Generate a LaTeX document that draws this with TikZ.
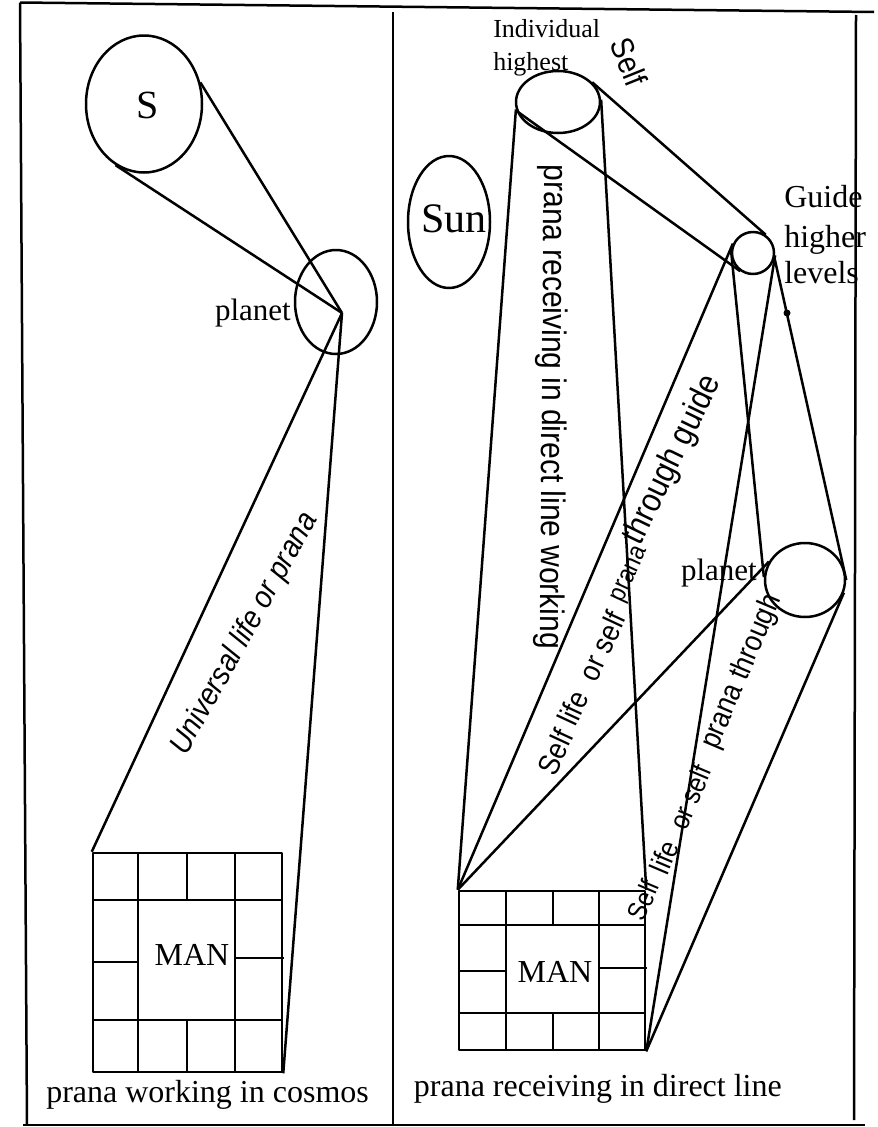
\documentclass[tikz,border=0pt]{standalone}
\usepackage{fontspec}
\usepackage{graphicx}
\setmainfont{Liberation Serif}
\newfontfamily\sfx{Liberation Sans}
\usetikzlibrary{shapes.geometric}
\newcommand\myfs[1]{\fontsize{#1}{#1}\selectfont}
\newcommand\nar[1]{\scalebox{0.88}[1]{#1}}
\begin{document}
\begin{tikzpicture}[x=1pt,y=-1pt,line width=2.5pt,line join=round,
  ell/.style={ellipse,draw,inner sep=0pt},
  gridbox/.style={draw,inner sep=0pt},
  lbl/.style={inner sep=0pt},
  rs/.style={inner sep=0pt}]
\useasboundingbox (0,0) rectangle (878,1127);
% frame
\draw (20,2.5) -- (874,12);
\draw (20,2.5) -- (27,1125);
\draw (23,1125) -- (865,1125);
\draw (393,12) -- (393,1124);
\draw (856,15) -- (854,1120);

% ---------------- left panel
\node[ell,minimum width=116pt,minimum height=137pt] (S) at (144,104) {};
\node[lbl,font=\myfs{40}] (Stext) at (148,105) {S};
\node[ell,minimum width=82pt,minimum height=104pt] (pl1) at (336,302) {};
\coordinate (pf) at (342,313);
\node[lbl,anchor=base east,font=\myfs{31}] (pl1lbl) at (292,320) {planet};
\node[gridbox,minimum width=189pt,minimum height=219pt] (g1) at (187.5,962.5) {};
\node[lbl,font=\myfs{32}] (man1) at (192,955) {MAN};
% grid 1 interior
\draw (93,900) -- (282,900);
\draw (93,1020) -- (282,1020);
\foreach \xx in {138,187,235} {
  \draw (\xx,853) -- (\xx,900);
  \draw (\xx,1020) -- (\xx,1072);
}
\draw (138,900) -- (138,1020);
\draw (235,900) -- (235,1020);
\draw (93,962) -- (138,962);
\draw (235,958) -- (284,958);
% connectors
\draw (S.21) -- (pf);
\draw (S.245) -- (pf);
\draw (pf) -- (g1.north west);
\draw (pf) -- (g1.south east);
\node[rs,rotate=61,font=\sfx\itshape\myfs{31}] (univ) at (245,634) {\scalebox{0.9}[1]{Universal life or prana}};
\node[lbl,anchor=base west,font=\myfs{32}] (cap1) at (45,1102) {prana working in cosmos};

% ---------------- right panel
\node[ell,minimum width=82pt,minimum height=132pt] (sun) at (449,222) {};
\node[lbl,font=\myfs{42}] (suntext) at (454,219) {Sun};
\node[ell,minimum width=84pt,minimum height=62pt] (ind) at (558,102) {};
\node[lbl,anchor=base west,font=\myfs{26}] (indl1) at (492,37) {Individual};
\node[lbl,anchor=base west,font=\myfs{26}] (indl2) at (492,70) {highest};
\node[rs,rotate=-68,font=\sfx\myfs{32}] (selftop) at (629,62) {\nar{Self}};
\node[circle,draw,minimum size=42pt,inner sep=0pt] (gd) at (753,253) {};
\node[lbl,anchor=base west,font=\myfs{32}] (gl1) at (783,207) {Guide};
\node[lbl,anchor=base west,font=\myfs{32}] (gl2) at (783,247) {higher};
\node[lbl,anchor=base west,font=\myfs{32}] (gl3) at (783,283) {levels};
\node[circle,fill,inner sep=0pt,minimum size=7pt] (dot) at (787,313) {};
\node[ell,minimum width=80pt,minimum height=74pt] (pl2) at (805,580) {};
\node[lbl,anchor=base east,font=\myfs{31}] (pl2lbl) at (758,580) {planet};
\node[gridbox,minimum width=186pt,minimum height=159pt] (g2) at (552,970.5) {};
\node[lbl,font=\myfs{32}] (man2) at (555,972) {MAN};
% grid 2 interior
\draw (459,925) -- (645,925);
\draw (459,1013) -- (645,1013);
\foreach \xx in {506,553,599} {
  \draw (\xx,891) -- (\xx,925);
  \draw (\xx,1013) -- (\xx,1050);
}
\draw (506,925) -- (506,1013);
\draw (599,925) -- (599,1013);
\draw (459,971) -- (506,971);
\draw (599,968) -- (647,968);
% connectors
\draw (ind.30) -- (gd.55);
\draw (ind.192) -- (gd.235);
\draw (ind.190) -- (g2.north west);
\draw (ind.3) -- (g2.north east);
\draw (gd.155) -- (g2.north west);
\draw (gd.172) -- (pl2.176);
\draw (gd.-6) -- (g2.south east);
\draw (gd.-14) -- (pl2.0);
\draw (pl2.-18) -- (g2.south east);
\draw (pl2.153) -- (g2.north west);
% rotated texts
\node[rs,rotate=-90.5,font=\sfx\myfs{34}] (t1) at (551,407) {\nar{prana receiving in direct line working}};
\node[rs,rotate=65,font=\sfx\myfs{30}] (t2a) at (555,752) {\nar{Self}};
\node[rs,rotate=65,font=\sfx\myfs{30}] (t2b) at (573,708) {\nar{life}};
\node[rs,rotate=65,font=\sfx\myfs{30}] (t2c) at (602,646) {\nar{or self}};
\node[rs,rotate=65,font=\sfx\myfs{26}] (t2d) at (631,575) {\nar{prana}};
\node[rs,rotate=64,font=\sfx\myfs{34}] (t2e) at (673,460) {\nar{through guide}};
\node[rs,rotate=67,font=\sfx\myfs{27}] (t3a) at (643,900) {\nar{Self}};
\node[rs,rotate=67,font=\sfx\myfs{29}] (t3b) at (664,857) {\nar{life}};
\node[rs,rotate=67,font=\sfx\myfs{28}] (t3c) at (690,797) {\nar{or self}};
\node[rs,rotate=67,font=\sfx\myfs{30}] (t3d) at (742,672) {\nar{prana through}};
\node[lbl,anchor=base east,font=\myfs{32}] (cap2) at (783,1096) {prana receiving in direct line};
\end{tikzpicture}
\end{document}
